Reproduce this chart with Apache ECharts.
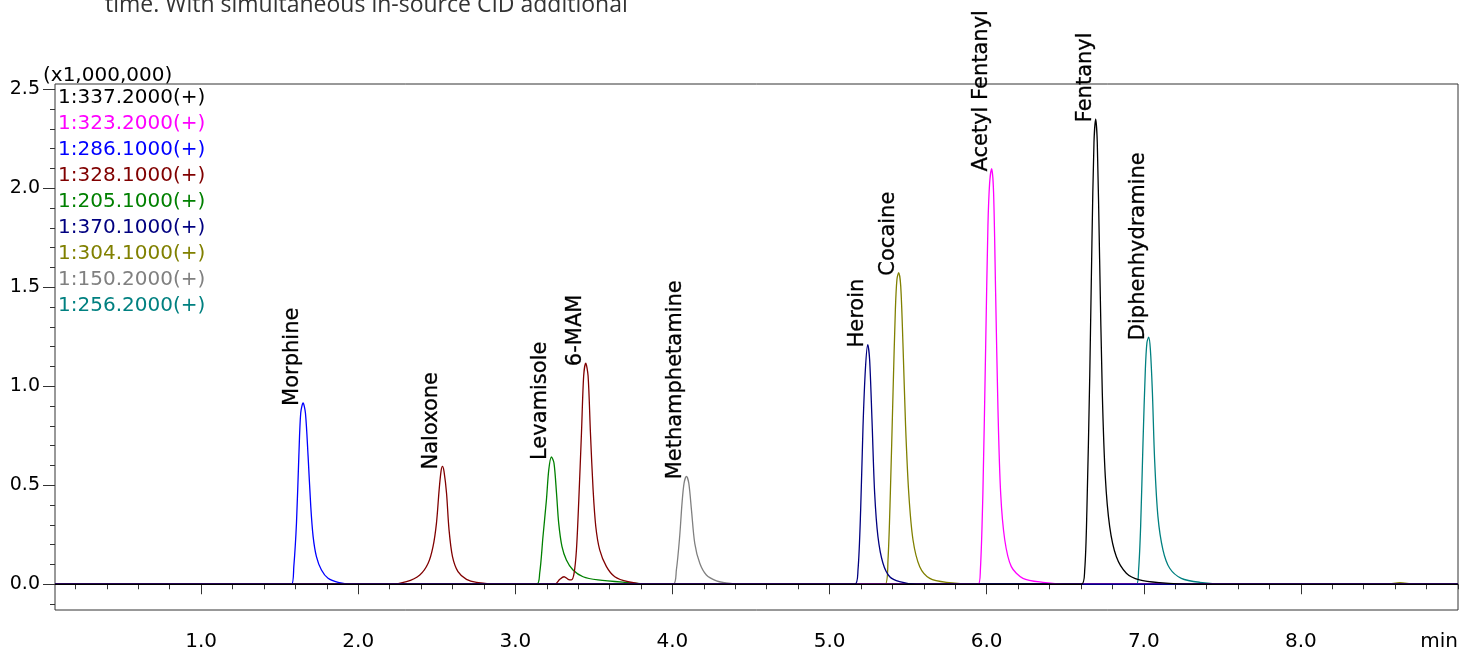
<!DOCTYPE html>
<html>
<head>
<meta charset="utf-8">
<script src="https://cdn.jsdelivr.net/npm/echarts@6/dist/echarts.min.js"></script>
<style>
  html, body { margin: 0; padding: 0; background: #fff; }
  #chart { width: 1461px; height: 652px; }
</style>
</head>
<body>
<div id="chart"></div>
<script>
// x = retention time (min), y = intensity (x1,000,000)
var trace337 = [[0.07,0],[6.603,0],[6.624,0.072],[6.638,0.376],[6.656,1.050],[6.670,1.725],[6.683,2.231],[6.694,2.349],[6.704,2.231],[6.719,1.641],[6.736,0.966],[6.755,0.545],[6.783,0.291],[6.825,0.140],[6.889,0.056],[6.973,0.022],[7.101,0.008],[7.313,0],[9.0,0]];
var trace323 = [[0.07,0],[5.945,0],[5.960,0.072],[5.976,0.461],[5.994,1.219],[6.008,1.809],[6.019,2.029],[6.032,2.100],[6.044,1.979],[6.057,1.473],[6.072,0.882],[6.089,0.461],[6.115,0.225],[6.157,0.089],[6.231,0.030],[6.358,0.010],[6.528,0],[9.0,0]];
var trace286 = [[0.07,0],[1.575,0],[1.590,0.089],[1.607,0.309],[1.622,0.646],[1.634,0.865],[1.649,0.916],[1.664,0.865],[1.681,0.646],[1.698,0.393],[1.713,0.241],[1.734,0.140],[1.766,0.072],[1.808,0.030],[1.872,0.010],[1.967,0],[9.0,0]];
var trace328 = [[0.07,0],[2.201,0],[2.307,0.013],[2.392,0.047],[2.445,0.106],[2.476,0.190],[2.498,0.309],[2.515,0.477],[2.527,0.570],[2.536,0.595],[2.546,0.570],[2.562,0.461],[2.578,0.275],[2.600,0.140],[2.635,0.064],[2.689,0.025],[2.753,0.010],[2.901,0],
  [3.251,0],[3.283,0.025],[3.310,0.038],[3.336,0.025],[3.357,0.022],[3.374,0.056],[3.389,0.174],[3.404,0.427],[3.421,0.765],[3.435,1.053],[3.448,1.117],[3.463,1.053],[3.478,0.765],[3.495,0.477],[3.512,0.292],[3.537,0.174],[3.580,0.089],[3.633,0.038],[3.717,0.013],[3.845,0],[9.0,0]];
var trace205 = [[0.07,0],[3.134,0],[3.155,0.056],[3.176,0.241],[3.198,0.427],[3.213,0.579],[3.230,0.643],[3.246,0.612],[3.262,0.461],[3.276,0.309],[3.297,0.190],[3.325,0.123],[3.367,0.072],[3.431,0.038],[3.526,0.022],[3.696,0.010],[3.908,0],[9.0,0]];
var trace370 = [[0.07,0],[5.160,0],[5.181,0.072],[5.198,0.376],[5.213,0.798],[5.228,1.085],[5.243,1.211],[5.255,1.135],[5.270,0.832],[5.287,0.461],[5.308,0.241],[5.340,0.106],[5.383,0.038],[5.446,0.013],[5.553,0],[9.0,0]];
var trace304 = [[0.07,0],[5.354,0],[5.372,0.123],[5.387,0.461],[5.404,0.967],[5.419,1.389],[5.429,1.541],[5.440,1.574],[5.453,1.506],[5.467,1.219],[5.484,0.798],[5.504,0.461],[5.531,0.225],[5.574,0.089],[5.638,0.030],[5.744,0.010],[5.955,0],[8.55,0],[8.63,0.008],[8.72,0],[9.0,0]];
var trace150 = [[0.07,0],[4.004,0],[4.025,0.072],[4.046,0.241],[4.061,0.410],[4.074,0.511],[4.089,0.545],[4.104,0.511],[4.121,0.376],[4.142,0.207],[4.174,0.106],[4.216,0.047],[4.280,0.017],[4.333,0.008],[4.428,0],[9.0,0]];
var trace256 = [[0.07,0],[6.953,0],[6.967,0.072],[6.980,0.292],[6.995,0.714],[7.010,1.085],[7.020,1.220],[7.031,1.248],[7.042,1.186],[7.055,0.966],[7.069,0.629],[7.090,0.343],[7.122,0.174],[7.165,0.081],[7.239,0.030],[7.356,0.010],[7.546,0],[9.0,0]];

var channelNames = ['1:337.2000(+)','1:323.2000(+)','1:286.1000(+)','1:328.1000(+)','1:205.1000(+)','1:370.1000(+)','1:304.1000(+)','1:150.2000(+)','1:256.2000(+)'];
var channelColors = ['#000000','#ff00ff','#0000ff','#800000','#008000','#000080','#808000','#808080','#008080'];
var channelData = [trace337, trace323, trace286, trace328, trace205, trace370, trace304, trace150, trace256];
// stacking order on the canvas (black ends up on top, like the baseline in the picture)
var drawOrder = [8, 7, 6, 4, 3, 2, 1, 5, 0];

var peakNames = ['Morphine','Naloxone','Levamisole','6-MAM','Methamphetamine','Heroin','Cocaine','Acetyl Fentanyl','Fentanyl','Diphenhydramine'];
var peakTimes = [1.649, 2.536, 3.230, 3.448, 4.089, 5.243, 5.440, 6.032, 6.694, 7.031];
var peakHeights = [0.916, 0.595, 0.643, 1.117, 0.545, 1.211, 1.574, 2.100, 2.349, 1.248];

var xMajorTicks = [1, 2, 3, 4, 5, 6, 7, 8];
var xLabelValues = [1, 2, 3, 4, 5, 6, 7, 8, 9];
var xMinorTicks = [0.2,0.4,0.6,0.8,1.2,1.4,1.6,1.8,2.2,2.4,2.6,2.8,3.2,3.4,3.6,3.8,4.2,4.4,4.6,4.8,5.2,5.4,5.6,5.8,6.2,6.4,6.6,6.8,7.2,7.4,7.6,7.8,8.2,8.4,8.6,8.8,9.0];
var yMajorTicks = [0, 0.5, 1.0, 1.5, 2.0, 2.5];
var yMinorTicks = [-0.1,0.1,0.2,0.3,0.4,0.6,0.7,0.8,0.9,1.1,1.2,1.3,1.4,1.6,1.7,1.8,1.9,2.1,2.2,2.3,2.4];

var FONT = 'DejaVu Sans';
var myChart = echarts.init(document.getElementById('chart'), null, {renderer: 'canvas'});

var series = drawOrder.map(function (i) {
    return {
        name: channelNames[i],
        type: 'line',
        xAxisIndex: 0,
        yAxisIndex: 0,
        data: channelData[i],
        showSymbol: false,
        smooth: 0.3,
        lineStyle: {width: 1.3, color: channelColors[i]},
        itemStyle: {color: channelColors[i]},
        silent: true
    };
});

series.push({
    name: 'peaks',
    type: 'scatter',
    xAxisIndex: 0,
    yAxisIndex: 0,
    symbolSize: 0,
    silent: true,
    z: 5,
    data: peakNames.map(function (n, i) { return [peakTimes[i], peakHeights[i], n]; }),
    label: {
        show: true,
        position: 'top',
        distance: 0,
        rotate: 90,
        align: 'left',
        verticalAlign: 'bottom',
        offset: [-3, 0],
        color: '#000',
        opacity: 1,
        textBorderColor: '#000',
        textBorderWidth: 0.3,
        fontFamily: FONT,
        fontSize: 21,
        formatter: function (p) { return p.value[2]; }
    }
});

var option = {
    animation: false,
    backgroundColor: '#fff',
    grid: {
        left: 55, right: 2, top: 84, bottom: 42,
        show: true,
        borderColor: '#333',
        borderWidth: 1,
        backgroundColor: 'transparent'
    },
    legend: {
        data: channelNames.map(function (n, i) {
            return {name: n, textStyle: {color: channelColors[i]}};
        }),
        orient: 'vertical',
        left: 52,
        top: 88,
        padding: 0,
        itemGap: 6,
        itemWidth: 0,
        itemHeight: 0,
        selectedMode: false,
        itemStyle: {opacity: 0},
        lineStyle: {opacity: 0},
        textStyle: {fontFamily: FONT, fontSize: 20}
    },
    xAxis: [
        {
            type: 'value', min: 0.07, max: 9.0, position: 'bottom', offset: 3,
            axisLine: {show: false},
            splitLine: {show: false},
            axisTick: {show: true, length: 10, customValues: xMajorTicks, lineStyle: {color: '#333'}},
            axisLabel: {
                customValues: xLabelValues,
                margin: 19,
                alignMaxLabel: 'right',
                color: '#000', fontFamily: FONT, fontSize: 20,
                formatter: function (v) { return v === 9 ? 'min' : v.toFixed(1); }
            }
        },
        {
            type: 'value', min: 0.07, max: 9.0, position: 'bottom', offset: 3,
            axisLine: {show: false},
            splitLine: {show: false},
            axisTick: {show: true, length: 5, customValues: xMinorTicks, lineStyle: {color: '#333'}},
            axisLabel: {show: false}
        }
    ],
    yAxis: [
        {
            type: 'value', min: -0.13, max: 2.527, position: 'left',
            axisLine: {show: false},
            splitLine: {show: false},
            axisTick: {show: true, length: 12, customValues: yMajorTicks, lineStyle: {color: '#333'}},
            axisLabel: {
                customValues: yMajorTicks,
                margin: 15,
                padding: [4, 0, 0, 0],
                color: '#000', fontFamily: FONT, fontSize: 19,
                formatter: function (v) { return v.toFixed(1); }
            }
        },
        {
            type: 'value', min: -0.13, max: 2.527, position: 'left',
            axisLine: {show: false},
            splitLine: {show: false},
            axisTick: {show: true, length: 5, customValues: yMinorTicks, lineStyle: {color: '#333'}},
            axisLabel: {show: false}
        }
    ],
    graphic: [
        {
            type: 'text', left: 43, top: 66, silent: true,
            style: {text: '(x1,000,000)', fill: '#000', font: '20px "DejaVu Sans"'}
        },
        {
            type: 'text', x: 105, y: 17, silent: true,
            style: {text: 'time. With simultaneous in-source CID additional', fill: '#333',
                    font: '23px "Open Sans"', verticalAlign: 'bottom'}
        }
    ],
    series: series
};
myChart.setOption(option);
</script>
</body>
</html>
